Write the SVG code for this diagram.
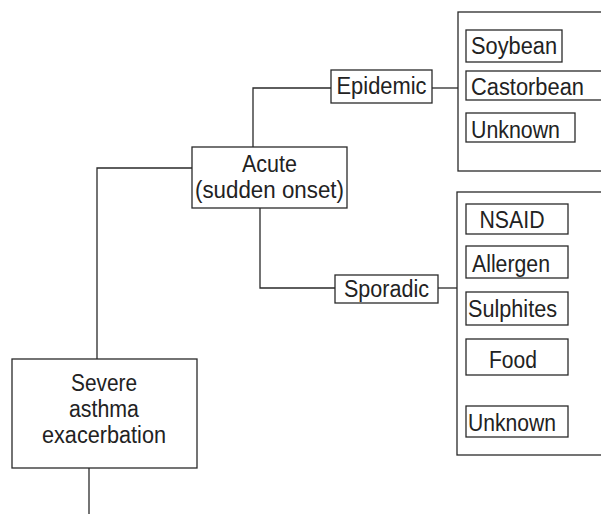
<svg xmlns="http://www.w3.org/2000/svg" width="601" height="514" viewBox="0 0 601 514">
<style>
.b{fill:#fff;stroke:#2a2a2a;stroke-width:1.3}
.l{fill:none;stroke:#2a2a2a;stroke-width:1.3}
text{font-family:"Liberation Sans",Arial,sans-serif;font-size:23.5px;fill:#222}
.c{text-anchor:middle}
</style>
<rect width="601" height="514" fill="#fff"/>
<g id="connectors">
<polyline class="l" points="97,359 97,168 192,168"/>
<line class="l" x1="89" y1="468" x2="89" y2="514"/>
<polyline class="l" points="253,147 253,88 331,88"/>
<polyline class="l" points="260,208 260,288 335,288"/>
<line class="l" x1="432" y1="88" x2="458" y2="88"/>
<line class="l" x1="438" y1="288" x2="457" y2="288"/>
</g>
<g id="severe">
<rect class="b" x="12" y="359" width="185" height="109"/>
<text class="c" x="104" y="391" textLength="66" lengthAdjust="spacingAndGlyphs">Severe</text>
<text class="c" x="104" y="417" textLength="70" lengthAdjust="spacingAndGlyphs">asthma</text>
<text class="c" x="104" y="443" textLength="124" lengthAdjust="spacingAndGlyphs">exacerbation</text>
</g>
<g id="acute">
<rect class="b" x="192" y="147" width="155" height="61"/>
<text class="c" x="269.5" y="172" textLength="55" lengthAdjust="spacingAndGlyphs">Acute</text>
<text class="c" x="269.5" y="198" textLength="149" lengthAdjust="spacingAndGlyphs">(sudden onset)</text>
</g>
<g id="epidemic">
<rect class="b" x="331" y="70" width="101" height="33"/>
<text class="c" x="381.5" y="94" textLength="90" lengthAdjust="spacingAndGlyphs">Epidemic</text>
</g>
<g id="sporadic">
<rect class="b" x="335" y="275" width="103" height="28"/>
<text class="c" x="386.5" y="297" textLength="85" lengthAdjust="spacingAndGlyphs">Sporadic</text>
</g>
<g id="epidemic-group">
<rect class="b" x="458" y="12" width="160" height="159"/>
<g id="soybean"><rect class="b" x="466" y="30" width="96" height="32"/><text x="471" y="54" textLength="86" lengthAdjust="spacingAndGlyphs">Soybean</text></g>
<g id="castorbean"><rect class="b" x="466" y="71" width="150" height="29"/><text x="471" y="95" textLength="113" lengthAdjust="spacingAndGlyphs">Castorbean</text></g>
<g id="unknown1"><rect class="b" x="466" y="113" width="109" height="29"/><text x="471" y="138" textLength="89" lengthAdjust="spacingAndGlyphs">Unknown</text></g>
</g>
<g id="sporadic-group">
<rect class="b" x="457" y="192" width="160" height="263"/>
<g id="nsaid"><rect class="b" x="466" y="204" width="102" height="30"/><text class="c" x="512" y="228" textLength="65" lengthAdjust="spacingAndGlyphs">NSAID</text></g>
<g id="allergen"><rect class="b" x="466" y="246" width="102" height="32"/><text x="472" y="272" textLength="78" lengthAdjust="spacingAndGlyphs">Allergen</text></g>
<g id="sulphites"><rect class="b" x="466" y="292" width="102" height="33"/><text x="468" y="317" textLength="89" lengthAdjust="spacingAndGlyphs">Sulphites</text></g>
<g id="food"><rect class="b" x="466" y="339" width="102" height="36"/><text class="c" x="513" y="368" textLength="48" lengthAdjust="spacingAndGlyphs">Food</text></g>
<g id="unknown2"><rect class="b" x="466" y="406" width="102" height="31"/><text x="468" y="431" textLength="88" lengthAdjust="spacingAndGlyphs">Unknown</text></g>
</g>
</svg>
